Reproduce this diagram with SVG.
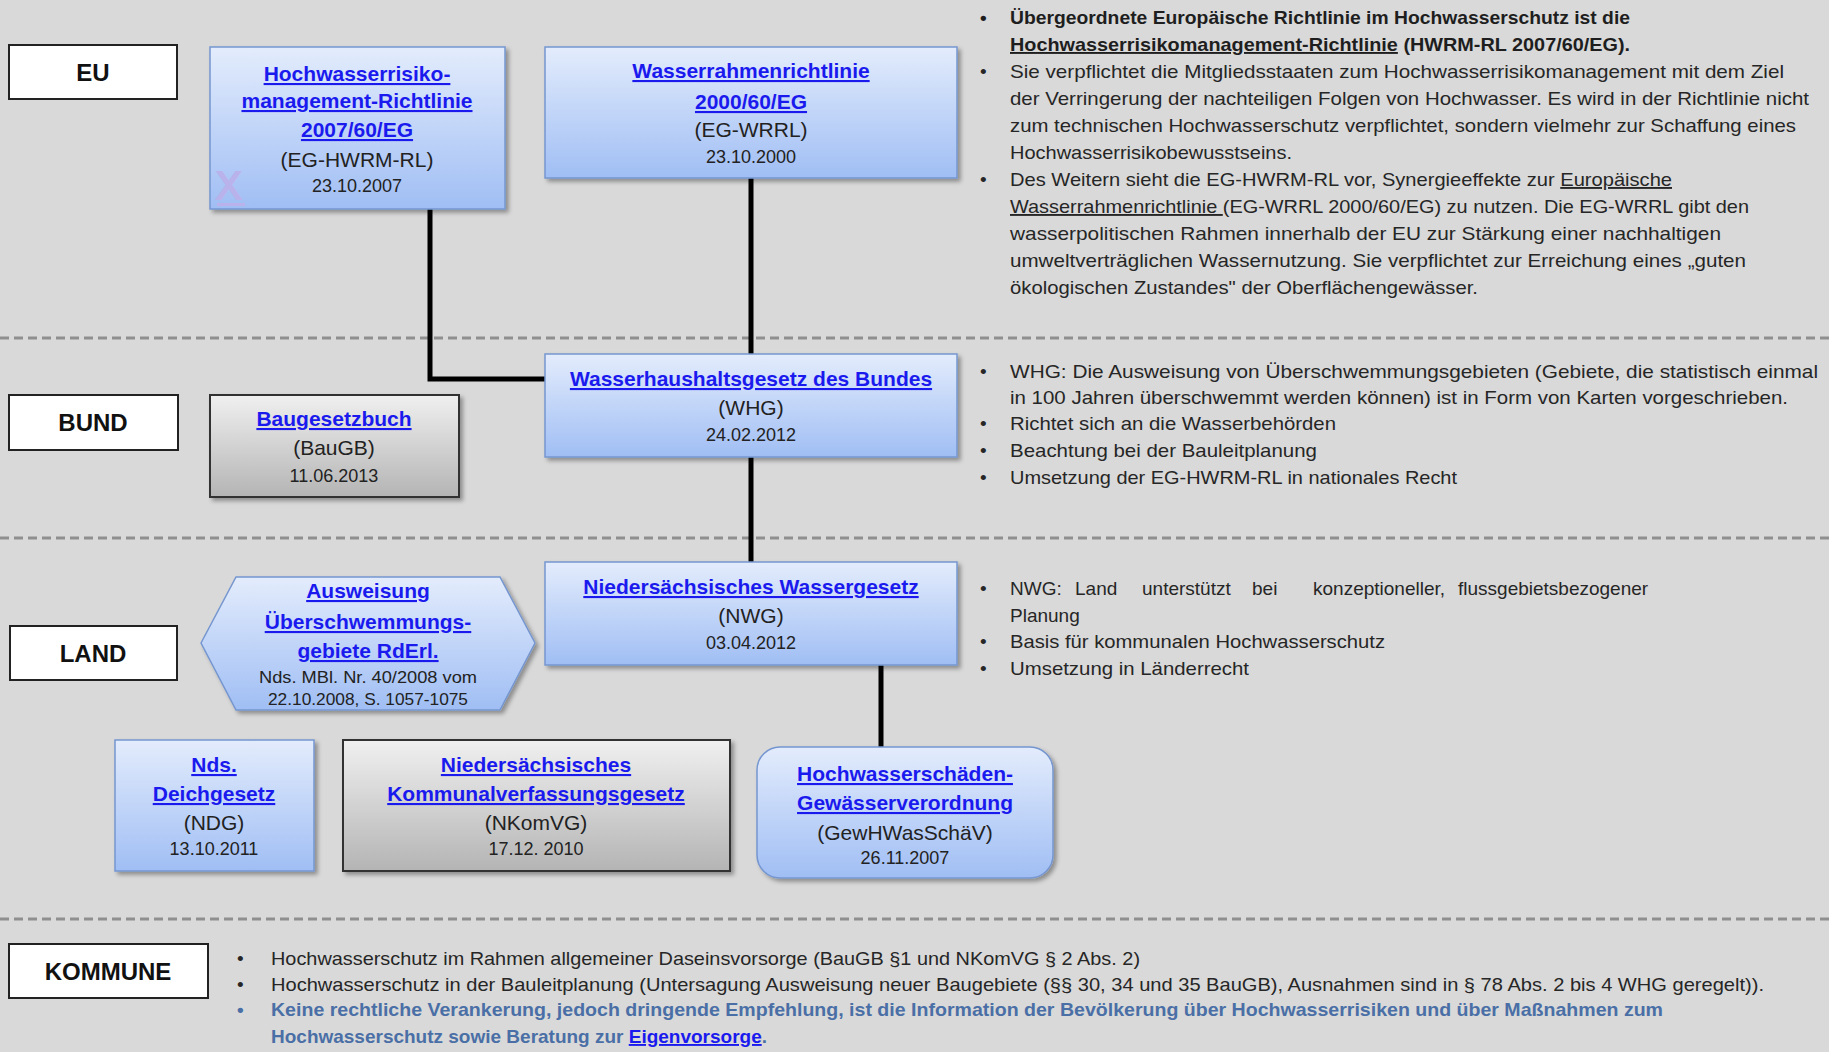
<svg xmlns="http://www.w3.org/2000/svg" width="1829" height="1052" viewBox="0 0 1829 1052">
<defs>
<linearGradient id="gBlue" x1="0" y1="0" x2="0" y2="1"><stop offset="0" stop-color="#e3ecfc"/><stop offset="1" stop-color="#a0bef4"/></linearGradient>
<linearGradient id="gGray" x1="0" y1="0" x2="0" y2="1"><stop offset="0" stop-color="#f0f0f0"/><stop offset="1" stop-color="#b4b4b4"/></linearGradient>
<filter id="sh" x="-5%" y="-5%" width="115%" height="125%"><feDropShadow dx="3" dy="3" stdDeviation="2" flood-color="#000" flood-opacity="0.35"/></filter>
</defs>
<style>
text{font-family:"Liberation Sans",Arial,sans-serif;fill:#222}
.blue{fill:url(#gBlue);stroke:#7596cf;stroke-width:1.5;filter:url(#sh)}
.gray{fill:url(#gGray);stroke:#333;stroke-width:2;filter:url(#sh)}
.lab{fill:#fff;stroke:#222;stroke-width:2}
.labt{font-size:24px;font-weight:bold;text-anchor:middle;fill:#111}
.ttl{font-size:21px;font-weight:bold;text-anchor:middle;fill:#1a1aee;text-decoration:underline}
.sub{font-size:21px;text-anchor:middle}
.dt{font-size:18px;text-anchor:middle}
.sm{font-size:17px;text-anchor:middle}
.dash{stroke:#8f8f8f;stroke-width:3;stroke-dasharray:9 5}
.con{stroke:#000;stroke-width:5;fill:none}
.bt{font-size:19px;fill:#262626}
.bb{font-size:19px;font-weight:bold;fill:#1e1e1e}
.ul{text-decoration:underline}
.kb{font-size:19px;font-weight:bold;fill:#4a6fa6}
.lnk{fill:#1a1aee;text-decoration:underline}
</style>
<rect width="1829" height="1052" fill="#d9d9d9"/>
<g id="separators">
<line class="dash" x1="0" y1="338" x2="1829" y2="338"/>
<line class="dash" x1="0" y1="538" x2="1829" y2="538"/>
<line class="dash" x1="0" y1="919" x2="1829" y2="919"/>
</g>
<g id="connectors">
<polyline class="con" points="430,209 430,379 545,379"/>
<line class="con" x1="751" y1="178" x2="751" y2="354"/>
<line class="con" x1="751" y1="457" x2="751" y2="562"/>
<line class="con" x1="881" y1="665" x2="881" y2="747"/>
</g>
<g id="label-eu"><rect class="lab" x="9" y="45" width="168" height="54"/><text class="labt" x="93" y="81">EU</text></g>
<g id="label-bund"><rect class="lab" x="9" y="395" width="169" height="55"/><text class="labt" x="93" y="431">BUND</text></g>
<g id="label-land"><rect class="lab" x="10" y="626" width="167" height="54"/><text class="labt" x="93" y="662">LAND</text></g>
<g id="label-kommune"><rect class="lab" x="9" y="944" width="199" height="54"/><text class="labt" x="108" y="980">KOMMUNE</text></g>
<g id="node-hwrm">
<rect class="blue" x="210" y="47" width="295" height="162"/>
<text class="ttl" x="357" y="81">Hochwasserrisiko-</text>
<text class="ttl" x="357" y="108">management-Richtlinie</text>
<text class="ttl" x="357" y="137">2007/60/EG</text>
<text class="sub" x="357" y="167">(EG-HWRM-RL)</text>
<text class="dt" x="357" y="192">23.10.2007</text>
<text x="216" y="199" style="font-size:38px;fill:#bab2ea;stroke:#bab2ea;stroke-width:2">X</text>
<rect x="217" y="203" width="28" height="3" fill="#bab2ea"/>
</g>
<g id="node-wrrl">
<rect class="blue" x="545" y="47" width="412" height="131"/>
<text class="ttl" x="751" y="78">Wasserrahmenrichtlinie</text>
<text class="ttl" x="751" y="109">2000/60/EG</text>
<text class="sub" x="751" y="137">(EG-WRRL)</text>
<text class="dt" x="751" y="163">23.10.2000</text>
</g>
<g id="node-whg">
<rect class="blue" x="545" y="354" width="412" height="103"/>
<text class="ttl" x="751" y="386">Wasserhaushaltsgesetz des Bundes</text>
<text class="sub" x="751" y="415">(WHG)</text>
<text class="dt" x="751" y="441">24.02.2012</text>
</g>
<g id="node-baugb">
<rect class="gray" x="210" y="395" width="249" height="102"/>
<text class="ttl" x="334" y="426">Baugesetzbuch</text>
<text class="sub" x="334" y="455">(BauGB)</text>
<text class="dt" x="334" y="482">11.06.2013</text>
</g>
<g id="node-nwg">
<rect class="blue" x="545" y="562" width="412" height="103"/>
<text class="ttl" x="751" y="594">Niedersächsisches Wassergesetz</text>
<text class="sub" x="751" y="623">(NWG)</text>
<text class="dt" x="751" y="649">03.04.2012</text>
</g>
<g id="node-ausweisung">
<polygon class="blue" points="201,643 236,577 500,577 535,643 500,710 236,710"/>
<text class="ttl" x="368" y="598">Ausweisung</text>
<text class="ttl" x="368" y="629">Überschwemmungs-</text>
<text class="ttl" x="368" y="658">gebiete RdErl.</text>
<text class="sm" x="368" y="683" textLength="218" lengthAdjust="spacingAndGlyphs">Nds. MBl. Nr. 40/2008 vom</text>
<text class="sm" x="368" y="705" textLength="200" lengthAdjust="spacingAndGlyphs">22.10.2008, S. 1057-1075</text>
</g>
<g id="node-ndg">
<rect class="blue" x="115" y="740" width="199" height="131"/>
<text class="ttl" x="214" y="772">Nds.</text>
<text class="ttl" x="214" y="801">Deichgesetz</text>
<text class="sub" x="214" y="830">(NDG)</text>
<text class="dt" x="214" y="855">13.10.2011</text>
</g>
<g id="node-nkomvg">
<rect class="gray" x="343" y="740" width="387" height="131"/>
<text class="ttl" x="536" y="772">Niedersächsisches</text>
<text class="ttl" x="536" y="801">Kommunalverfassungsgesetz</text>
<text class="sub" x="536" y="830">(NKomVG)</text>
<text class="dt" x="536" y="855">17.12. 2010</text>
</g>
<g id="node-gewhwasschaev">
<rect class="blue" x="757" y="747" width="296" height="131" rx="23" ry="23"/>
<text class="ttl" x="905" y="781">Hochwasserschäden-</text>
<text class="ttl" x="905" y="810">Gewässerverordnung</text>
<text class="sub" x="905" y="840">(GewHWasSchäV)</text>
<text class="dt" x="905" y="864">26.11.2007</text>
</g>
<g id="text-eu">
<text class="bb" x="980" y="24">•</text>
<text class="bb" x="1010" y="24" textLength="620" lengthAdjust="spacingAndGlyphs">Übergeordnete Europäische Richtlinie im Hochwasserschutz ist die</text>
<text class="bb" x="1010" y="51" textLength="620" lengthAdjust="spacingAndGlyphs"><tspan class="ul">Hochwasserrisikomanagement-Richtlinie</tspan> (HWRM-RL 2007/60/EG).</text>
<text class="bt" x="980" y="78">•</text>
<text class="bt" x="1010" y="78" textLength="774" lengthAdjust="spacingAndGlyphs">Sie verpflichtet die Mitgliedsstaaten zum Hochwasserrisikomanagement mit dem Ziel</text>
<text class="bt" x="1010" y="105" textLength="799" lengthAdjust="spacingAndGlyphs">der Verringerung der nachteiligen Folgen von Hochwasser. Es wird in der Richtlinie nicht</text>
<text class="bt" x="1010" y="132" textLength="786" lengthAdjust="spacingAndGlyphs">zum technischen Hochwasserschutz verpflichtet, sondern vielmehr zur Schaffung eines</text>
<text class="bt" x="1010" y="159" textLength="282" lengthAdjust="spacingAndGlyphs">Hochwasserrisikobewusstseins.</text>
<text class="bt" x="980" y="186">•</text>
<text class="bt" x="1010" y="186" textLength="662" lengthAdjust="spacingAndGlyphs">Des Weitern sieht die EG-HWRM-RL vor, Synergieeffekte zur <tspan class="ul">Europäische</tspan></text>
<text class="bt" x="1010" y="213" textLength="739" lengthAdjust="spacingAndGlyphs"><tspan class="ul">Wasserrahmenrichtlinie </tspan>(EG-WRRL 2000/60/EG) zu nutzen. Die EG-WRRL gibt den</text>
<text class="bt" x="1010" y="240" textLength="711" lengthAdjust="spacingAndGlyphs">wasserpolitischen Rahmen innerhalb der EU zur Stärkung einer nachhaltigen</text>
<text class="bt" x="1010" y="267" textLength="736" lengthAdjust="spacingAndGlyphs">umweltverträglichen Wassernutzung. Sie verpflichtet zur Erreichung eines „guten</text>
<text class="bt" x="1010" y="294" textLength="468" lengthAdjust="spacingAndGlyphs">ökologischen Zustandes" der Oberflächengewässer.</text>
</g>
<g id="text-bund">
<text class="bt" x="980" y="378">•</text>
<text class="bt" x="1010" y="378" textLength="808" lengthAdjust="spacingAndGlyphs">WHG: Die Ausweisung von Überschwemmungsgebieten (Gebiete, die statistisch einmal</text>
<text class="bt" x="1010" y="404" textLength="778" lengthAdjust="spacingAndGlyphs">in 100 Jahren überschwemmt werden können) ist in Form von Karten vorgeschrieben.</text>
<text class="bt" x="980" y="430">•</text>
<text class="bt" x="1010" y="430" textLength="326" lengthAdjust="spacingAndGlyphs">Richtet sich an die Wasserbehörden</text>
<text class="bt" x="980" y="457">•</text>
<text class="bt" x="1010" y="457" textLength="307" lengthAdjust="spacingAndGlyphs">Beachtung bei der Bauleitplanung</text>
<text class="bt" x="980" y="484">•</text>
<text class="bt" x="1010" y="484" textLength="447" lengthAdjust="spacingAndGlyphs">Umsetzung der EG-HWRM-RL in nationales Recht</text>
</g>
<g id="text-land">
<text class="bt" x="980" y="595">•</text>
<text class="bt" y="595"><tspan x="1010">NWG:</tspan><tspan x="1075">Land</tspan><tspan x="1142">unterstützt</tspan><tspan x="1252">bei</tspan><tspan x="1313">konzeptioneller,</tspan><tspan x="1458">flussgebietsbezogener</tspan></text>
<text class="bt" x="1010" y="622">Planung</text>
<text class="bt" x="980" y="648">•</text>
<text class="bt" x="1010" y="648" textLength="375" lengthAdjust="spacingAndGlyphs">Basis für kommunalen Hochwasserschutz</text>
<text class="bt" x="980" y="675">•</text>
<text class="bt" x="1010" y="675" textLength="239" lengthAdjust="spacingAndGlyphs">Umsetzung in Länderrecht</text>
</g>
<g id="text-kommune">
<text class="bt" x="237" y="965">•</text>
<text class="bt" x="271" y="965" textLength="869" lengthAdjust="spacingAndGlyphs">Hochwasserschutz im Rahmen allgemeiner Daseinsvorsorge (BauGB §1 und NKomVG § 2 Abs. 2)</text>
<text class="bt" x="237" y="991">•</text>
<text class="bt" x="271" y="991" textLength="1493" lengthAdjust="spacingAndGlyphs">Hochwasserschutz in der Bauleitplanung (Untersagung Ausweisung neuer Baugebiete (§§ 30, 34 und 35 BauGB), Ausnahmen sind in § 78 Abs. 2 bis 4 WHG geregelt)).</text>
<text class="kb" x="237" y="1016">•</text>
<text class="kb" x="271" y="1016" textLength="1392" lengthAdjust="spacingAndGlyphs">Keine rechtliche Verankerung, jedoch dringende Empfehlung, ist die Information der Bevölkerung über Hochwasserrisiken und über Maßnahmen zum</text>
<text class="kb" x="271" y="1043" textLength="496" lengthAdjust="spacingAndGlyphs">Hochwasserschutz sowie Beratung zur <tspan class="lnk">Eigenvorsorge</tspan>.</text>
</g>
</svg>
